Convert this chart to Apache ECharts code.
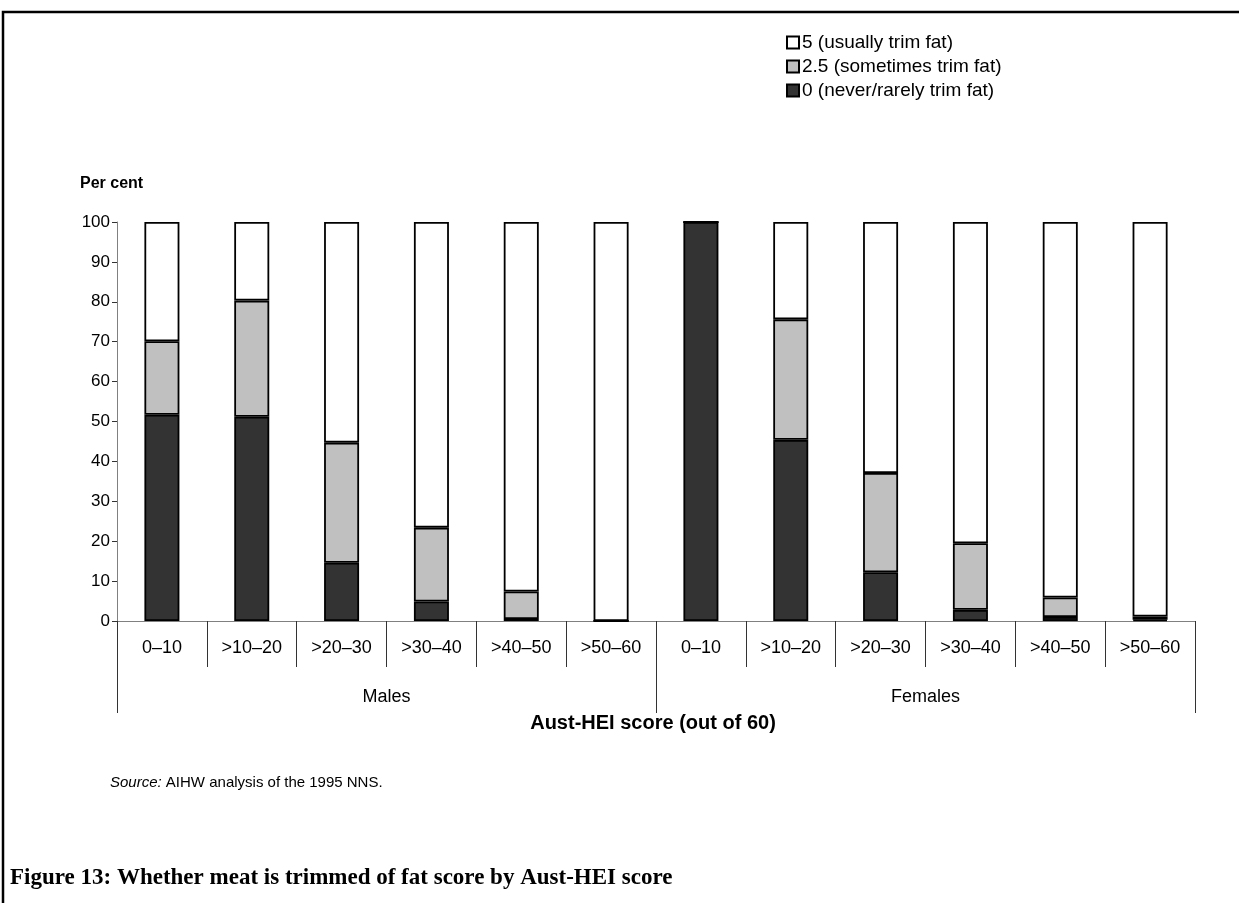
<!DOCTYPE html>
<html>
<head>
<meta charset="utf-8">
<script src="https://cdn.jsdelivr.net/npm/echarts@6/dist/echarts.min.js"></script>
<style>
html,body{margin:0;padding:0;background:#fff;}
#chart{width:1239px;height:903px;}
</style>
</head>
<body>
<div id="chart"></div>
<script>
var categories = ['0–10','>10–20','>20–30','>30–40','>40–50','>50–60','0–10','>10–20','>20–30','>30–40','>40–50','>50–60'];
var groups = ['Males','Females'];
var seriesNames = ['0 (never/rarely trim fat)','2.5 (sometimes trim fat)','5 (usually trim fat)'];
var neverTrim = [51.7, 51.2, 14.6, 4.9, 0.5, 0, 100, 45.4, 12.2, 2.8, 1.0, 0.3];
var sometimesTrim = [18.4, 29.1, 30.1, 18.5, 6.9, 0, 0, 30.2, 24.9, 16.7, 4.9, 0.8];
var usuallyTrim = [29.9, 19.7, 55.3, 76.6, 92.6, 100, 0, 24.4, 62.9, 80.5, 94.1, 98.9];
var yTicks = [0,10,20,30,40,50,60,70,80,90,100];

var chart = echarts.init(document.getElementById('chart'), null, {renderer:'canvas'});
var font = '"Liberation Sans", Arial, sans-serif';
var colors = ['#333333','#c0c0c0','#ffffff'];
var values = [neverTrim, sometimesTrim, usuallyTrim];

var series = seriesNames.map(function(n,i){
  return {
    name:n, type:'bar', stack:'all', barWidth:35,
    data: values[i],
    itemStyle:{color:colors[i], borderColor:'#000', borderWidth:1.8},
    emphasis:{disabled:true}
  };
});

chart.setOption({
  animation:false,
  backgroundColor:'#fff',
  textStyle:{fontFamily:font},
  legend:{
    orient:'vertical', left:781, top:28,
    itemWidth:12, itemHeight:12, itemGap:5,
    icon:'rect',
    data:[seriesNames[2],seriesNames[1],seriesNames[0]],
    textStyle:{fontFamily:font, fontSize:19, color:'#000', padding:[0,0,0,-2]},
    selectedMode:false
  },
  grid:{left:117, right:44, top:222, bottom:282, containLabel:false},
  xAxis:[{
    type:'category', data:categories, position:'bottom', offset:0,
    axisLine:{show:true, lineStyle:{color:'#808080', width:1}},
    axisTick:{show:true, length:46, interval:0, alignWithLabel:false, lineStyle:{color:'#333', width:1}},
    axisLabel:{interval:0, margin:18, fontSize:18, color:'#000', fontFamily:font}
  },{
    type:'category', data:groups, position:'bottom', offset:0, gridIndex:0,
    axisLine:{show:false},
    axisTick:{show:true, length:92, interval:0, alignWithLabel:false, lineStyle:{color:'#333', width:1}},
    axisLabel:{interval:0, margin:67, fontSize:18, color:'#000', fontFamily:font}
  }],
  yAxis:{
    type:'value', min:yTicks[0], max:yTicks[yTicks.length-1], interval:10,
    axisLine:{show:true, lineStyle:{color:'#808080', width:1}},
    axisTick:{show:true, length:5, lineStyle:{color:'#333'}},
    splitLine:{show:false},
    axisLabel:{fontSize:17, color:'#000', margin:7, fontFamily:font}
  },
  graphic:[
    {type:'polyline', shape:{points:[[3,903],[3,12],[1239,12]]}, style:{stroke:'#000', lineWidth:2.5, fill:null}},
    {type:'text', left:80, top:176, style:{text:'Per cent', font:'bold 16px '+font, fill:'#000'}},
    {type:'text', x:653, y:723, style:{text:'Aust-HEI score (out of 60)', font:'bold 20px '+font, fill:'#000', align:'center', verticalAlign:'middle'}},
    {type:'text', left:110, top:775, style:{
      text:'{i|Source:} AIHW analysis of the 1995 NNS.',
      font:'15px '+font, fill:'#000',
      rich:{i:{fontStyle:'italic', fontSize:15, fontFamily:font, fill:'#000'}}
    }},
    {type:'text', left:10, top:867, style:{text:'Figure 13: Whether meat is trimmed of fat score by Aust-HEI score', font:'bold 23px "Liberation Serif", "DejaVu Serif", serif', fill:'#000'}}
  ],
  series:series
});
</script>
</body>
</html>
